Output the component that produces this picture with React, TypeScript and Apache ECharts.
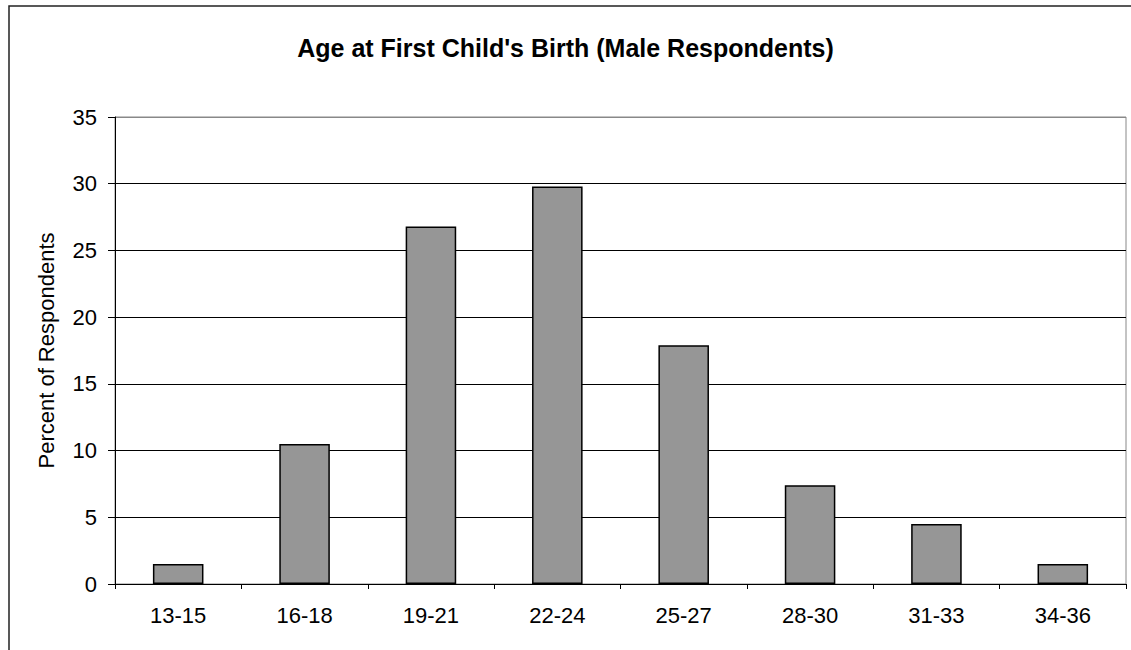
import React, { useEffect, useRef } from "react";
import * as echarts from "echarts";

const categories = ["13-15", "16-18", "19-21", "22-24", "25-27", "28-30", "31-33", "34-36"];
const percentValues = [1.5, 10.5, 26.8, 29.8, 17.9, 7.4, 4.5, 1.5];
const yTicks = { min: 0, max: 35, interval: 5 };
const titleText = "Age at First Child's Birth (Male Respondents)";
const yAxisName = "Percent of Respondents";

export default function App() {
  const ref = useRef<HTMLDivElement>(null);
  useEffect(() => {
    if (!ref.current) return;
    const chart = echarts.init(ref.current, null, { renderer: "svg" });
    const font = "Arial, 'Liberation Sans', sans-serif";
    chart.setOption({
      animation: false,
      backgroundColor: "#ffffff",
      title: {
        text: titleText,
        left: "center",
        top: 30,
        textStyle: { fontFamily: font, fontSize: 25, fontWeight: "bold", color: "#000" },
      },
      graphic: [
        {
          type: "rect",
          shape: { x: 9, y: 6, width: 1300, height: 800 },
          style: { fill: "none", stroke: "#222", lineWidth: 1.5 },
          silent: true,
        },
      ],
      grid: {
        left: 115,
        right: 5,
        top: 117,
        bottom: 66,
        show: true,
        borderColor: "#888",
        borderWidth: 1,
        backgroundColor: "transparent",
      },
      xAxis: {
        type: "category",
        data: categories,
        axisLine: { show: true, lineStyle: { color: "#000", width: 1 } },
        axisTick: { show: true, alignWithLabel: false, interval: 0, length: 5, lineStyle: { color: "#000" } },
        axisLabel: { fontFamily: font, fontSize: 22, color: "#000", margin: 20, interval: 0 },
        splitLine: { show: false },
      },
      yAxis: {
        type: "value",
        min: yTicks.min,
        max: yTicks.max,
        interval: yTicks.interval,
        name: yAxisName,
        nameLocation: "middle",
        nameGap: 58,
        nameTextStyle: { fontFamily: font, fontSize: 22, color: "#000" },
        axisLine: { show: true, lineStyle: { color: "#000", width: 1 } },
        axisTick: { show: true, length: 7, lineStyle: { color: "#000" } },
        axisLabel: { fontFamily: font, fontSize: 22, color: "#000", margin: 18 },
        splitLine: {
          show: true,
          lineStyle: {
            color: ["#000", "#000", "#000", "#000", "#000", "#000", "#000", "#888"],
            width: 1,
          },
        },
      },
      series: [
        {
          type: "bar",
          data: percentValues,
          barWidth: "40%",
          itemStyle: { color: "#969696", borderColor: "#000", borderWidth: 1.5 },
        },
      ],
    });
    return () => chart.dispose();
  }, []);
  return (
    <div
      ref={ref}
      style={{ position: "fixed", left: 0, top: 0, width: 1131, height: 650 }}
    />
  );
}
